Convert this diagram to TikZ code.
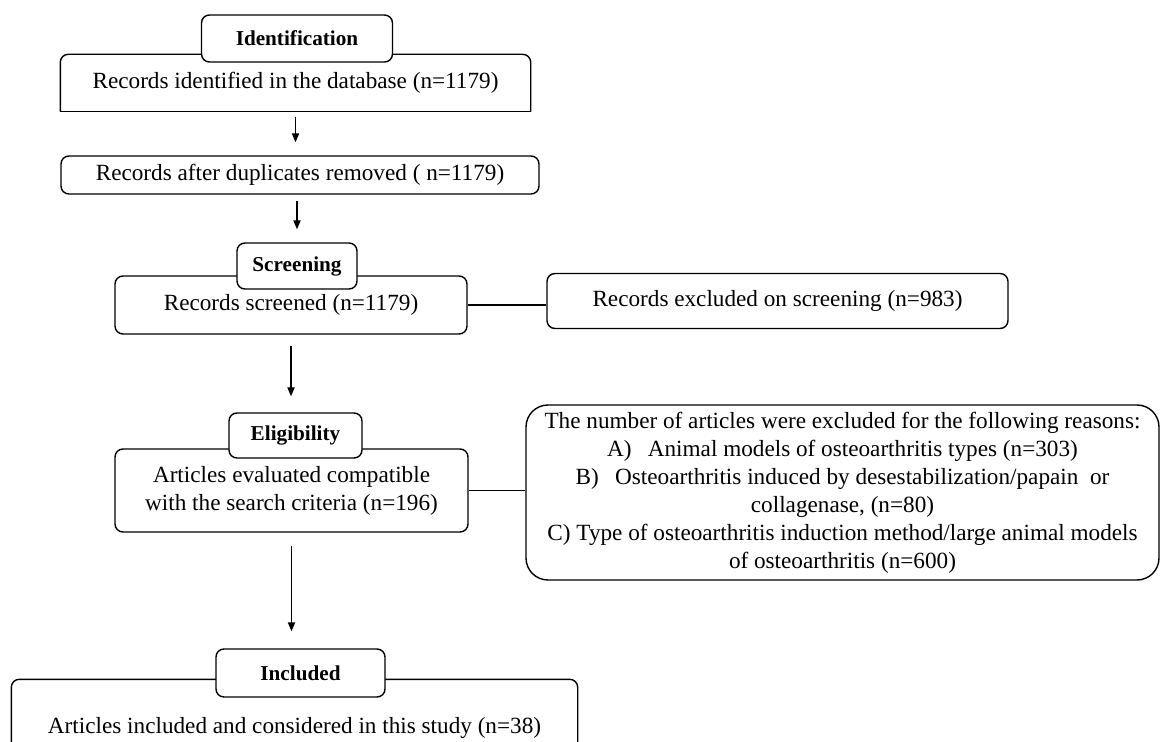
\documentclass[tikz,border=0pt]{standalone}
\usepackage{fontspec}
\setmainfont{Liberation Serif}
\usetikzlibrary{arrows.meta}

\begin{document}
\begin{tikzpicture}[x=0.5pt, y=-0.5pt, line width=0.7pt,
  box/.style={draw, rounded corners=4pt, align=center, inner sep=0pt, font=\fontsize{11.6}{14}\selectfont},
  tag/.style={draw, fill=white, rounded corners=4pt, inner sep=0pt, font=\fontsize{10.6}{13}\selectfont\bfseries},
  flow/.style={-{Triangle[length=4.5pt,width=3.6pt]}}]
\useasboundingbox (0,0) rectangle (1161,742);
\clip (0,0) rectangle (1161,742);
\fill[white] (0,0) rectangle (1161,742);

% identification
\node[box, draw=none, minimum width=234.5pt, minimum height=28pt] (ident) at (295.5,83) {Records identified in the database (n=1179)};
\draw[rounded corners=4pt] (ident.south west) -- (ident.north west) -- (ident.north east) -- (ident.south east);
\draw[line cap=rect] (ident.south west) -- (ident.south east);
\node[tag, minimum width=95.5pt, minimum height=23.5pt] (idtag) at (297,38.5) {Identification};
\node[box, minimum width=239pt, minimum height=19pt] (dedup) at (300,175) {Records after duplicates removed ( n=1179)};

% screening
\node[box, minimum width=176pt, minimum height=29pt] (screened) at (291,305) {Records screened (n=1179)};
\node[tag, minimum width=60pt, minimum height=23pt] (scrtag) at (297,266) {Screening};
\node[box, minimum width=230.5pt, minimum height=27.5pt] (excl) at (777.5,301) {Records excluded on screening (n=983)};

% eligibility
\node[box, minimum width=176.5pt, minimum height=41.5pt] (elig) at (291.5,490.5) {Articles evaluated compatible\\with the search criteria (n=196)};
\node[tag, minimum width=66.5pt, minimum height=22.5pt] (eligtag) at (295.5,435.5) {Eligibility};
\node[box, rounded corners=11pt, minimum width=316.5pt, minimum height=87.5pt] (reasons) at (842.5,492.5) {The number of articles were excluded for the following reasons:\\
  A)\hspace{0.7em}Animal models of osteoarthritis types (n=303)\\
  B)\hspace{0.7em}Osteoarthritis induced by desestabilization/papain\ \ or\\
  collagenase, (n=80)\\
  C) Type of osteoarthritis induction method/large animal models\\
  of osteoarthritis (n=600)};

% included
\node[box, draw=none, minimum width=282.5pt, minimum height=48pt] (incl) at (294.5,728) {Articles included and considered in this study (n=38)};
\draw[rounded corners=4pt] (incl.south west) -- (incl.north west) -- (incl.north east) -- (incl.south east);
\node[tag, minimum width=84.5pt, minimum height=24pt] (inctag) at (300.5,673) {Included};

% connectors
\draw[flow, shorten <=2.5pt, shorten >=6.5pt] (ident.south) -- (ident.south |- dedup.north);
\draw[flow, shorten <=3pt, shorten >=6.5pt] (scrtag.north |- dedup.south) -- (scrtag.north);
\draw[flow, shorten <=5.5pt, shorten >=8pt] (screened.south) -- (screened.south |- eligtag.north);
\draw[flow, shorten <=6.5pt, shorten >=8.5pt] (elig.south) -- (elig.south |- inctag.north);
\draw (screened.east) -- (screened.east -| excl.west);
\draw (elig.east) -- (elig.east -| reasons.west);
\end{tikzpicture}
\end{document}
